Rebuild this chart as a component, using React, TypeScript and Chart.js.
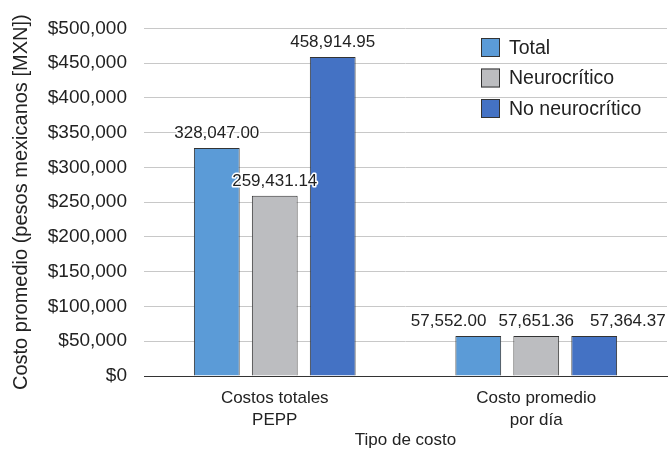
import React, { useEffect, useRef } from "react";
import { Chart, registerables } from "chart.js";

Chart.register(...registerables);

const categories: string[][] = [["Costos totales", "PEPP"], ["Costo promedio", "por día"]];
const seriesNames = ["Total", "Neurocrítico", "No neurocrítico"];
const totalValues = [328047.0, 57552.0];
const neuroValues = [259431.14, 57651.36];
const noNeuroValues = [458914.95, 57364.37];
const seriesColors = ["#5b9bd7", "#bcbdc0", "#4472c4"];
const yTitle = "Costo promedio (pesos mexicanos [MXN])";
const xTitle = "Tipo de costo";

const FONT = "'Liberation Sans', Arial, Helvetica, sans-serif";

const valueLabels = {
  id: "valueLabels",
  afterDatasetsDraw(chart: any) {
    const ctx = chart.ctx;
    ctx.save();
    ctx.font = `17px ${FONT}`;
    ctx.textAlign = "center";
    ctx.textBaseline = "alphabetic";
    const nCat = chart.data.labels.length;
    const nDs = chart.data.datasets.length;
    for (let i = 0; i < nCat; i++) {
      const items: any[] = [];
      for (let di = 0; di < nDs; di++) {
        const bar = chart.getDatasetMeta(di).data[i];
        const v = chart.data.datasets[di].data[i];
        const txt = v.toLocaleString("en-US", { minimumFractionDigits: 2, maximumFractionDigits: 2 });
        const w = ctx.measureText(txt).width;
        items.push({ txt, x: bar.x, y: bar.y - 10, w });
      }
      // resolve overlaps by pushing outward from the middle label
      const mid = Math.floor(items.length / 2);
      for (let k = mid - 1; k >= 0; k--) {
        const right = items[k + 1];
        const it = items[k];
        if (Math.abs(it.y - right.y) < 18) {
          const maxRight = right.x - right.w / 2 - 12;
          if (it.x + it.w / 2 > maxRight) it.x = maxRight - it.w / 2;
        }
      }
      for (let k = mid + 1; k < items.length; k++) {
        const left = items[k - 1];
        const it = items[k];
        if (Math.abs(it.y - left.y) < 18) {
          const minLeft = left.x + left.w / 2 + 16;
          if (it.x - it.w / 2 < minLeft) it.x = minLeft + it.w / 2;
        }
      }
      items.forEach((it) => {
        ctx.lineWidth = 3;
        ctx.strokeStyle = "#ffffff";
        ctx.lineJoin = "round";
        ctx.strokeText(it.txt, it.x, it.y);
        ctx.fillStyle = "#222222";
        ctx.fillText(it.txt, it.x, it.y);
      });
    }
    ctx.restore();
  },
};

const insideLegend = {
  id: "insideLegend",
  afterDraw(chart: any) {
    const ctx = chart.ctx;
    ctx.save();
    ctx.font = `19.5px ${FONT}`;
    ctx.textAlign = "left";
    ctx.textBaseline = "middle";
    const x0 = 481;
    const y0 = 47.5;
    const gap = 30.5;
    chart.data.datasets.forEach((ds: any, i: number) => {
      const cy = y0 + i * gap;
      ctx.fillStyle = ds.backgroundColor;
      ctx.fillRect(x0, cy - 9.5, 19, 19);
      ctx.strokeStyle = "#333333";
      ctx.lineWidth = 1;
      ctx.strokeRect(x0 + 0.5, cy - 9, 18, 18);
      ctx.fillStyle = "#222222";
      ctx.fillText(ds.label, x0 + 28, cy + 1);
    });
    ctx.restore();
  },
};

export default function App() {
  const ref = useRef<HTMLCanvasElement | null>(null);
  useEffect(() => {
    if (!ref.current) return;
    const chart = new Chart(ref.current, {
      type: "bar",
      data: {
        labels: categories,
        datasets: [
          { label: seriesNames[0], data: totalValues, backgroundColor: seriesColors[0] },
          { label: seriesNames[1], data: neuroValues, backgroundColor: seriesColors[1] },
          { label: seriesNames[2], data: noNeuroValues, backgroundColor: seriesColors[2] },
        ].map((d) => ({
          ...d,
          borderColor: "#333333",
          borderWidth: 1,
          categoryPercentage: 0.665,
          barPercentage: 0.79,
        })),
      },
      options: {
        responsive: false,
        animation: false,
        layout: { padding: { left: 0, right: 3, top: 24, bottom: 0 } },
        plugins: {
          legend: { display: false },
          tooltip: { enabled: false },
        },
        scales: {
          x: {
            grid: { display: false, drawTicks: false },
            border: { display: true, color: "#333333", width: 1 },
            ticks: { color: "#222222", font: { family: FONT, size: 17, lineHeight: 1.3 }, padding: 11 },
            title: { display: true, text: xTitle, color: "#222222", font: { family: FONT, size: 17 }, padding: { top: 4, bottom: 0 } },
            afterFit: (s: any) => { s.height = 75; },
          },
          y: {
            min: 0,
            max: 500000,
            grid: {
              color: (c: any) => (c.tick && c.tick.value === 0 ? "#333333" : "#c8c8c8"),
              drawTicks: false,
            },
            border: { display: false },
            ticks: {
              stepSize: 50000,
              color: "#222222",
              padding: 17,
              font: { family: FONT, size: 19 },
              callback: (v: any) => "$" + Number(v).toLocaleString("en-US"),
            },
            title: { display: true, text: yTitle, color: "#222222", font: { family: FONT, size: 20 }, padding: { top: 9, bottom: 0 } },
            afterFit: (s: any) => { s.width = 144; },
          },
        },
      },
      plugins: [valueLabels, insideLegend],
    });
    return () => chart.destroy();
  }, []);
  return (
    <div style={{ position: "absolute", left: 0, top: 0, width: 670, height: 451, background: "#fff" }}>
      <canvas ref={ref} width={670} height={451} />
    </div>
  );
}
